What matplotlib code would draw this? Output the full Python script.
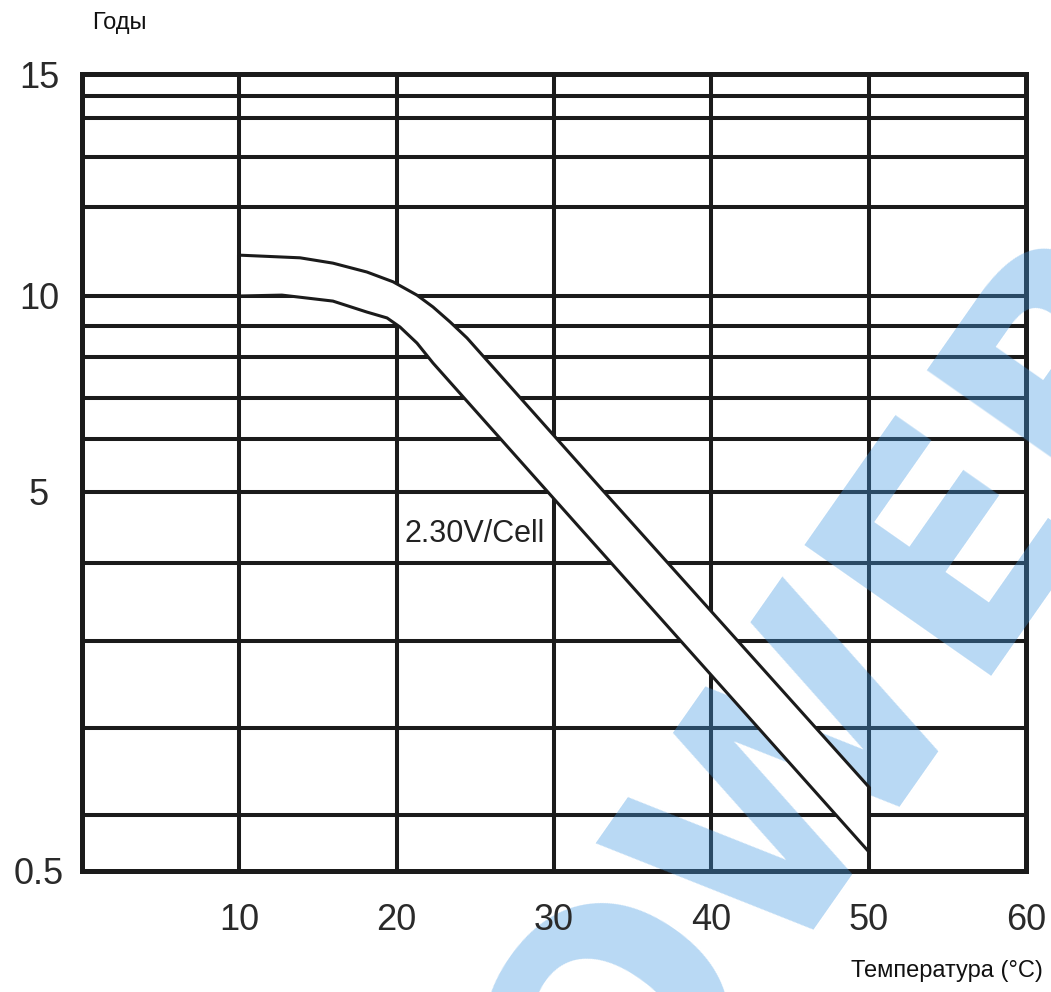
import numpy as np
import matplotlib
matplotlib.use('Agg')
import matplotlib.pyplot as plt

plt.rcParams['font.family'] = ['Liberation Sans', 'DejaVu Sans']

# y axis of the chart is not linear: anchor labels and their heights on the sheet
y_anchor = [0.5, 5, 10, 15]
h_anchor = [0, 379, 575, 797]

# horizontal and vertical grid lines (years / degC)
grid_y = [1.17, 2.2, 3.23, 4.16, 5, 6.35, 7.4, 8.45, 9.23, 10, 12.0, 13.13, 14.0, 14.5]
grid_x = [10, 20, 30, 40, 50]

x_ticks = [10, 20, 30, 40, 50, 60]
y_ticks = [0.5, 5, 10, 15]
y_ticklabels = ['0.5', '5', '10', '15']

# 2.30V/Cell band, upper and lower edges
upper_x = [10, 13.86, 15.95, 18.11, 19.77, 21.29, 22.31, 23.39, 24.47, 33.19, 50]
upper_y = [10.92, 10.86, 10.74, 10.54, 10.32, 10.02, 9.72, 9.34, 8.93, 5.0, 1.5]
lower_x = [10, 12.71, 15.95, 18.11, 19.39, 20.21, 21.29, 22.31, 29.61, 50]
lower_y = [10.0, 10.02, 9.87, 9.59, 9.44, 9.21, 8.80, 8.29, 5.0, 0.73]


def fwd(v):
    return np.interp(v, y_anchor, h_anchor)


def inv(h):
    return np.interp(h, h_anchor, y_anchor)


fig = plt.figure(figsize=(10.51, 9.92), dpi=100)
ax = fig.add_axes([0.078, 0.122, 0.8982, 0.8034])
ax.set_yscale('function', functions=(fwd, inv))
ax.set_xlim(0, 60)
ax.set_ylim(0.5, 15)

ink = '#1b1b1b'
for v in grid_y:
    ax.axhline(v, color=ink, lw=2.9, zorder=1)
for v in grid_x:
    ax.axvline(v, color=ink, lw=2.9, zorder=1)

for s in ax.spines.values():
    s.set_linewidth(3.6)
    s.set_color(ink)
    s.set_zorder(1)

# watermark
ax.text(0.745, 0.21, 'POWER', transform=fig.transFigure, fontsize=225,
        fontweight='bold', family='DejaVu Sans', rotation=55,
        rotation_mode='anchor', ha='center', va='center',
        color=(69/255, 154/255, 226/255), alpha=0.38, zorder=1.5, clip_on=False)

# white band between the two curves
bx = upper_x + lower_x[::-1]
by = upper_y + lower_y[::-1]
ax.fill(bx, by, color='white', lw=0, zorder=2)
ax.vlines([upper_x[0], upper_x[-1]], [lower_y[0], lower_y[-1]],
          [upper_y[0], upper_y[-1]], color=ink, lw=2.9, zorder=2.1)
ax.plot(upper_x, upper_y, color=ink, lw=2.2, zorder=3, solid_joinstyle='round')
ax.plot(lower_x, lower_y, color=ink, lw=2.2, zorder=3, solid_joinstyle='round')

ax.text(20.5, 4.5, '2.30V/Cell', fontsize=22, color='#222222',
        ha='left', va='center', zorder=4)

ax.set_xticks(x_ticks)
ax.set_xticklabels([str(t) for t in x_ticks])
ax.set_yticks(y_ticks)
ax.set_yticklabels(y_ticklabels)
ax.minorticks_off()
ax.tick_params(axis='both', length=0, labelsize=26, labelcolor='#2a2a2a')
ax.tick_params(axis='x', pad=23)
ax.tick_params(axis='y', pad=31)
for lab in ax.get_yticklabels():
    lab.set_horizontalalignment('center')

fig.text(92/1051, 1 - 23/992, 'Годы', fontsize=17, ha='left', va='center', color='#111111')
fig.text(1043/1051, 1 - 971/992, 'Температура (°C)', fontsize=17, ha='right',
         va='center', color='#111111')

fig.savefig('out.png', dpi=100, facecolor='white')
